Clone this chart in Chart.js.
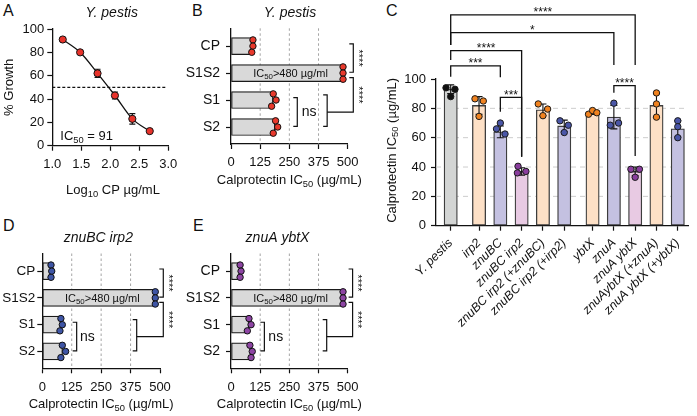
<!DOCTYPE html>
<html>
<head>
<meta charset="utf-8">
<title>Calprotectin IC50</title>
<script src="https://cdn.jsdelivr.net/npm/chart.js@4.4.1/dist/chart.umd.min.js"></script>
<style>
  html, body { margin: 0; padding: 0; background: #fff; }
  body { position: relative; width: 697px; height: 416px; overflow: hidden; font-family: 'Liberation Sans', Arial, sans-serif; color: #111; }
  canvas { position: absolute; }
  .panel { position: absolute; font-size: 16px; line-height: 16px; }
</style>
</head>
<body>
<div class="panel" style="left:3px;top:3px">A</div>
<div class="panel" style="left:192px;top:3px">B</div>
<div class="panel" style="left:386px;top:3px">C</div>
<div class="panel" style="left:3px;top:218px">D</div>
<div class="panel" style="left:193px;top:218px">E</div>
<script>
// Panel A: growth vs calprotectin
const A_LOG_CP = [1.18, 1.48, 1.78, 2.08, 2.38, 2.68];
const A_GROWTH = [91, 80, 62, 43, 23, 12.5];
const A_ERR = [1.5, 1, 3.5, 3, 4.5, 1];

// Panels B, D, E: IC50 per calprotectin variant
const CP_FORMS = ['CP', 'S1S2', 'S1', 'S2'];
const IC_TICKS = [0, 125, 250, 375, 500];
const B_MEAN = [90, 480, 180, 188];
const B_REPS = [[94, 94, 89], [480, 480, 480], [181, 193, 174], [191, 200, 181]];
const D_MEAN = [36, 480, 80, 86];
const D_REPS = [[37, 40, 37], [480, 480, 480], [79, 85, 75], [85, 99, 79]];
const E_MEAN = [38, 480, 76, 86];
const E_REPS = [[39, 43, 39], [480, 480, 480], [77, 86, 70], [81, 91, 86]];

// Panel C: strains
const STRAINS = ['Y. pestis', 'irp2', 'znuBC', 'znuBC irp2', 'znuBC irp2 (+znuBC)', 'znuBC irp2 (+irp2)',
  'ybtX', 'znuA', 'znuA ybtX', 'znuAybtX (+znuA)', 'znuA ybtX (+ybtX)'];
const STRAIN_GROUP = [0, 1, 1, 1, 1, 1, 2, 2, 2, 2, 2];
const STRAIN_KIND = ['wt', 'single', 'zinc', 'double', 'single', 'zinc', 'single', 'zinc', 'double', 'single', 'zinc'];
const C_MEAN = [93, 82, 64, 37, 79, 68, 77, 74, 37, 82, 66];
const C_SD = [3, 6, 4, 2.5, 4, 4, 1.2, 8, 3, 8, 5.5];
const C_REPS = [[94, 93, 88], [86.5, 85, 74.5], [70, 62.5, 66], [40.5, 36, 37], [83, 79.5, 75], [71.5, 68.5, 63.5],
  [76, 78.5, 77], [83.5, 68.5, 70], [38.5, 38.5, 33], [90.5, 83, 74], [71.5, 67.5, 60]];
const C_TICKS = [0, 20, 40, 60, 80, 100];
const C_SIG = [[0, 8, '****'], [0, 7, '*'], [0, 3, '****'], [0, 2, '***'], [2, 3, '***'], [7, 8, '****']];

const FONT = "'Liberation Sans', Arial, Helvetica, sans-serif";
const INK = '#111';
const KIND_FILL = { wt: '#d3d5d4', single: '#fde0c6', zinc: '#c4c1e1', double: '#e8cae3' };
const KIND_DOT = { wt: '#111111', single: '#f0821f', zinc: '#4a56a7', double: '#8a3d9e' };

function fnt(size, italic) { return (italic ? 'italic ' : '') + size + 'px ' + FONT; }

// text with subscript parts: [[text, isSub], ...]
function rich(ctx, parts, x, y, size, align, italic) {
  const sub = size * 0.72;
  ctx.save();
  ctx.fillStyle = INK;
  ctx.textAlign = 'left';
  ctx.textBaseline = 'alphabetic';
  let w = 0;
  parts.forEach(p => { ctx.font = fnt(p[1] ? sub : size, italic); w += ctx.measureText(p[0]).width; });
  let cx = align === 'center' ? x - w / 2 : align === 'right' ? x - w : x;
  parts.forEach(p => {
    ctx.font = fnt(p[1] ? sub : size, italic);
    ctx.fillText(p[0], cx, y + (p[1] ? size * 0.22 : 0));
    cx += ctx.measureText(p[0]).width;
  });
  ctx.restore();
}

function makeCanvas(box) {
  const c = document.createElement('canvas');
  c.width = box.w; c.height = box.h;
  c.style.cssText = `left:${box.x}px;top:${box.y}px;width:${box.w}px;height:${box.h}px`;
  document.body.appendChild(c);
  return c;
}

// fixes the plot area inside the canvas
function frame(box, area) {
  return {
    padding: { left: 0, top: area.t - box.y, right: box.x + box.w - area.r, bottom: 0 },
    fitY: s => { s.width = area.l - box.x; },
    fitX: s => { s.height = box.y + box.h - area.b; }
  };
}

function axis(fit, extra, tickOpts) {
  return Object.assign({
    afterFit: fit,
    grid: { display: true, drawOnChartArea: false, drawTicks: true, tickLength: 5, tickWidth: 1.2, tickColor: INK, offset: false },
    border: { display: true, color: INK, width: 1.3 },
    ticks: Object.assign({ color: INK, font: { family: FONT, size: 13 }, padding: 3 }, tickOpts || {})
  }, extra);
}

function baseOptions(f) {
  return {
    responsive: false, animation: false, devicePixelRatio: 1, events: [],
    layout: { padding: f.padding },
    plugins: { legend: { display: false }, tooltip: { enabled: false }, title: { display: false } }
  };
}

function errBar(ctx, px, y1, y2, cap) {
  ctx.beginPath();
  ctx.moveTo(px, y1); ctx.lineTo(px, y2);
  ctx.moveTo(px - cap, y1); ctx.lineTo(px + cap, y1);
  ctx.moveTo(px - cap, y2); ctx.lineTo(px + cap, y2);
  ctx.stroke();
}

// ---------- Panel A ----------
(function () {
  const box = { x: 0, y: 0, w: 200, h: 205 };
  const f = frame(box, { l: 52.3, t: 29, r: 168.3, b: 145.7 });
  const opts = baseOptions(f);
  opts.scales = {
    x: axis(f.fitX, { type: 'linear', position: 'bottom', min: 1, max: 3 }, { stepSize: 0.5, callback: v => v.toFixed(1), padding: 6 }),
    y: axis(f.fitY, { type: 'linear', position: 'left', min: 0, max: 100 }, { stepSize: 20 })
  };
  new Chart(makeCanvas(box), {
    type: 'line',
    data: { datasets: [{
      data: A_LOG_CP.map((x, i) => ({ x, y: A_GROWTH[i] })),
      borderColor: INK, borderWidth: 1.3, cubicInterpolationMode: 'monotone', fill: false,
      pointRadius: 3.6, pointBackgroundColor: '#e8332b', pointBorderColor: INK, pointBorderWidth: 1
    }] },
    options: opts,
    plugins: [{
      id: 'panelA',
      beforeDatasetsDraw(chart) {
        const { ctx, scales: { x, y } } = chart;
        ctx.save();
        ctx.strokeStyle = INK; ctx.lineWidth = 1.2;
        ctx.setLineDash([3, 2]);
        ctx.beginPath();
        ctx.moveTo(x.getPixelForValue(1), y.getPixelForValue(50));
        ctx.lineTo(x.getPixelForValue(2.98), y.getPixelForValue(50));
        ctx.stroke();
        ctx.setLineDash([]);
        A_LOG_CP.forEach((v, i) => errBar(ctx, x.getPixelForValue(v),
          y.getPixelForValue(A_GROWTH[i] - A_ERR[i]), y.getPixelForValue(A_GROWTH[i] + A_ERR[i]), 3));
        ctx.restore();
      },
      afterDraw(chart) {
        const { ctx, chartArea: a } = chart;
        rich(ctx, [['Y. pestis']], 111.7 - box.x, 17.3 - box.y, 14, 'center', true);
        rich(ctx, [['IC'], ['50', 1], [' = 91']], a.left + 8, a.bottom - 5.5, 13, 'left');
        rich(ctx, [['Log'], ['10', 1], [' CP µg/mL']], 113 - box.x, a.bottom + 48.5, 13, 'center');
        ctx.save();
        ctx.translate(a.left - 39, (a.top + a.bottom) / 2);
        ctx.rotate(-Math.PI / 2);
        rich(ctx, [['% Growth']], 0, 0, 13, 'center');
        ctx.restore();
      }
    }]
  });
})();

// ---------- Panels B, D, E ----------
function hbarPanel(box, area, title, titleX, means, reps, dotColor, geo) {
  const f = frame(box, area);
  const opts = baseOptions(f);
  opts.indexAxis = 'y';
  opts.scales = {
    x: axis(f.fitX, { type: 'linear', position: 'bottom', min: 0, max: 500,
      afterBuildTicks: s => { s.ticks = IC_TICKS.map(v => ({ value: v })); } }, { padding: 6 }),
    y: axis(f.fitY, { type: 'linear', position: 'left', reverse: true, min: -0.66, max: 3.63, offset: false,
      afterBuildTicks: s => { s.ticks = CP_FORMS.map((c, i) => ({ value: i })); } },
      { callback: v => CP_FORMS[v], padding: geo.catPad, font: { family: FONT, size: geo.catSize } })
  };
  const bars = {
    type: 'bar', order: 2, indexAxis: 'y',
    data: means.map((v, i) => ({ x: v, y: i })),
    backgroundColor: '#d9d9d9', borderColor: '#1a1a1a', borderWidth: 1.2, borderSkipped: false, barThickness: 17
  };
  const dots = {
    type: 'scatter', order: 1,
    data: reps.flatMap((r, i) => r.map((v, k) => ({ x: v, y: i + (k - 1) * 0.23 }))),
    pointRadius: 3.2, pointBackgroundColor: dotColor, pointBorderColor: INK, pointBorderWidth: 1
  };
  new Chart(makeCanvas(box), {
    type: 'bar',
    data: { datasets: [bars, dots] },
    options: opts,
    plugins: [{
      id: 'hbar',
      beforeDatasetsDraw(chart) {
        const { ctx, chartArea: a, scales: { x } } = chart;
        ctx.save();
        ctx.strokeStyle = '#9b9b9b'; ctx.lineWidth = 0.9; ctx.setLineDash([2.5, 2.5]);
        IC_TICKS.slice(1, -1).forEach(v => {
          const px = x.getPixelForValue(v);
          ctx.beginPath(); ctx.moveTo(px, a.top); ctx.lineTo(px, a.bottom); ctx.stroke();
        });
        ctx.restore();
      },
      afterDraw(chart) {
        const { ctx, chartArea: a, scales: { x, y } } = chart;
        const X = v => x.getPixelForValue(v), Y = v => y.getPixelForValue(v);
        rich(ctx, [['IC'], ['50', 1], ['>480 µg/ml']], X(255), Y(1) + 4, 11, 'center');
        ctx.save();
        ctx.strokeStyle = INK; ctx.lineWidth = 1.2;
        const stub = 4;
        const bracket = (px, ya, yb) => {
          ctx.beginPath(); ctx.moveTo(px - stub, ya); ctx.lineTo(px, ya); ctx.lineTo(px, yb); ctx.lineTo(px - stub, yb); ctx.stroke();
        };
        bracket(X(geo.top), Y(-0.08), Y(0.97));
        ctx.beginPath();
        ctx.moveTo(X(geo.top) - stub, Y(1.17)); ctx.lineTo(X(geo.top), Y(1.17));
        ctx.lineTo(X(geo.top), Y(2.45)); ctx.lineTo(X(geo.join), Y(2.45));
        ctx.stroke();
        bracket(X(geo.join), Y(1.81), Y(2.98));
        bracket(X(geo.ns), Y(1.91), Y(2.98));
        ctx.fillStyle = INK; ctx.font = fnt(11);
        ctx.textAlign = 'center'; ctx.textBaseline = 'middle';
        [0.445, 1.81].forEach(c => {
          ctx.save();
          ctx.translate(X(geo.top) + 4.5, Y(c));
          ctx.rotate(Math.PI / 2);
          ctx.fillText('****', 0, 0);
          ctx.restore();
        });
        ctx.restore();
        ctx.save();
        ctx.fillStyle = INK; ctx.font = fnt(14); ctx.textBaseline = 'middle'; ctx.textAlign = 'left';
        ctx.fillText('ns', X(geo.nsText), Y(2.45));
        ctx.restore();
        rich(ctx, [[title]], titleX - box.x, a.top - 11.8, 14, 'center', true);
        rich(ctx, [['Calprotectin IC'], ['50', 1], [' (µg/mL)']], (a.left + a.right) / 2, a.bottom + 40, 13, 'center');
      }
    }]
  });
}

hbarPanel({ x: 175, y: 0, w: 205, h: 205 }, { l: 231, t: 28.3, r: 347.7, b: 144 }, 'Y. pestis', 290,
  B_MEAN, B_REPS, '#e8392c', { top: 524, join: 412, ns: 284, nsText: 303, catPad: 6, catSize: 14 });
hbarPanel({ x: 0, y: 205, w: 185, h: 211 }, { l: 42.3, t: 253.5, r: 160, b: 368.3 }, 'znuBC irp2', 98.3,
  D_MEAN, D_REPS, '#3e55a5', { top: 514, join: 401, ns: 146, nsText: 160, catPad: 2, catSize: 13.5 });
hbarPanel({ x: 175, y: 205, w: 205, h: 211 }, { l: 231, t: 253.5, r: 347.7, b: 368.3 }, 'znuA ybtX', 277.5,
  E_MEAN, E_REPS, '#8d44a3', { top: 521, join: 410, ns: 143, nsText: 160, catPad: 6, catSize: 14 });

// ---------- Panel C ----------
(function () {
  const box = { x: 380, y: 0, w: 317, h: 416 };
  const f = frame(box, { l: 436, t: 79, r: 688, b: 225.7 });
  const pos = STRAINS.map((s, i) => i + STRAIN_GROUP[i] * 0.33);
  // horizontal spread of replicate dots (style)
  const jitter = [[-0.22, 0.2, 0], [-0.19, 0.2, 0], [0, 0.22, -0.18], [-0.17, -0.2, 0.2], [-0.22, 0.22, 0],
    [-0.2, 0.19, 0], [-0.19, 0, 0.2], [0, -0.17, 0.22], [-0.2, 0.2, 0], [0, 0, 0], [0, 0, 0]];
  // bracket heights: [bar level, left leg end, right leg end] in IC50 units
  const levels = [[143.7, 123.2, 109.6], [131.6, 123.2, 109.6], [119.3, 113, 47], [108.9, 101.5, 101.2],
    [87.5, 77.7, 47], [95.5, 90.7, 47.5]];
  const opts = baseOptions(f);
  opts.scales = {
    x: axis(f.fitX, { type: 'linear', position: 'bottom', min: -0.69, max: 11.14, offset: false,
      afterBuildTicks: s => { s.ticks = pos.map(v => ({ value: v })); } },
      { callback: v => STRAINS[pos.indexOf(v)], autoSkip: false, minRotation: 45, maxRotation: 45, padding: 5,
        font: { family: FONT, size: 12.5, style: 'italic' } }),
    y: axis(f.fitY, { type: 'linear', position: 'left', min: 0, max: 100,
      afterBuildTicks: s => { s.ticks = C_TICKS.map(v => ({ value: v })); } }, { padding: 5 })
  };
  new Chart(makeCanvas(box), {
    type: 'bar',
    data: { datasets: [
      { type: 'bar', order: 2, data: C_MEAN.map((v, i) => ({ x: pos[i], y: v })),
        backgroundColor: STRAIN_KIND.map(k => KIND_FILL[k]), borderColor: '#3d3d3d', borderWidth: 1.3,
        borderSkipped: false, barThickness: 13.3 },
      { type: 'scatter', order: 1,
        data: C_REPS.flatMap((r, i) => r.map((v, k) => ({ x: pos[i] + jitter[i][k], y: v }))),
        pointRadius: 3.2, pointBorderColor: '#1a1a1a', pointBorderWidth: 1,
        pointBackgroundColor: C_REPS.flatMap((r, i) => r.map(() => KIND_DOT[STRAIN_KIND[i]])) }
    ] },
    options: opts,
    plugins: [{
      id: 'panelC',
      beforeDatasetsDraw(chart) {
        const { ctx, chartArea: a, scales: { y } } = chart;
        ctx.save();
        ctx.strokeStyle = '#cdcdcd'; ctx.lineWidth = 1; ctx.setLineDash([5, 4]);
        C_TICKS.slice(1, -1).forEach(v => {
          const py = y.getPixelForValue(v);
          ctx.beginPath(); ctx.moveTo(a.left, py); ctx.lineTo(a.right, py); ctx.stroke();
        });
        ctx.restore();
      },
      afterDatasetDraw(chart, args) {
        if (args.index !== 0) return;
        const { ctx, scales: { x, y } } = chart;
        ctx.save();
        ctx.strokeStyle = INK; ctx.lineWidth = 1.1;
        C_MEAN.forEach((m, i) => errBar(ctx, x.getPixelForValue(pos[i]),
          y.getPixelForValue(m - C_SD[i]), y.getPixelForValue(m + C_SD[i]), 3.5));
        ctx.restore();
      },
      afterDraw(chart) {
        const { ctx, chartArea: a, scales: { x, y } } = chart;
        ctx.save();
        ctx.strokeStyle = INK; ctx.lineWidth = 1.3;
        ctx.fillStyle = INK; ctx.font = fnt(12); ctx.textAlign = 'center'; ctx.textBaseline = 'alphabetic';
        C_SIG.forEach(([i, j, t], n) => {
          const [lv, la, lb] = levels[n];
          const xa = x.getPixelForValue(pos[i]), xb = x.getPixelForValue(pos[j]);
          const py = y.getPixelForValue(lv);
          ctx.beginPath();
          ctx.moveTo(xa, y.getPixelForValue(la)); ctx.lineTo(xa, py);
          ctx.lineTo(xb, py); ctx.lineTo(xb, y.getPixelForValue(lb));
          ctx.stroke();
          ctx.fillText(t, (xa + xb) / 2, py + 1.5);
        });
        ctx.restore();
        ctx.save();
        ctx.translate(a.left - 40.5, (a.top + a.bottom) / 2 - 2);
        ctx.rotate(-Math.PI / 2);
        rich(ctx, [['Calprotectin IC'], ['50', 1], [' (µg/mL)']], 0, 0, 13, 'center');
        ctx.restore();
      }
    }]
  });
})();
</script>
</body>
</html>
